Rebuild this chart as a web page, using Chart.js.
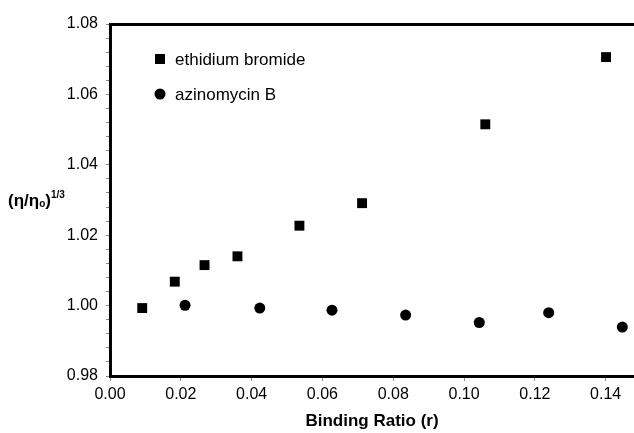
<!DOCTYPE html>
<html>
<head>
<meta charset="utf-8">
<script src="https://cdn.jsdelivr.net/npm/chart.js@4/dist/chart.umd.min.js"></script>
<style>
  html, body { margin: 0; padding: 0; background: #fff; }
  #wrap { width: 634px; height: 433px; position: relative; }
</style>
</head>
<body>
<div id="wrap"><canvas id="viscChart"></canvas></div>
<script>
// binding ratio (r) and (eta/eta0)^(1/3)
const ethidiumR = [0.0091, 0.0183, 0.0267, 0.0360, 0.0535, 0.0712, 0.1060, 0.1401];
const ethidiumV = [0.9993, 1.0068, 1.0115, 1.0140, 1.0227, 1.0291, 1.0515, 1.0706];
const azinoR = [0.0212, 0.0423, 0.0627, 0.0835, 0.1043, 0.1239, 0.1447];
const azinoV = [1.0001, 0.9993, 0.9987, 0.9973, 0.9952, 0.9980, 0.9939];
const seriesNames = ['ethidium bromide', 'azinomycin B'];
const xTickValues = [0.00, 0.02, 0.04, 0.06, 0.08, 0.10, 0.12, 0.14];

const FONT = '"Liberation Sans", Arial, sans-serif';
Chart.defaults.font.family = FONT;
Chart.defaults.color = '#000';

const toPoints = (xs, ys) => xs.map((x, i) => ({ x: x, y: ys[i] }));

// legend drawn inside the plot area, top left
const insideLegend = {
  id: 'insideLegend',
  afterDatasetsDraw(chart) {
    const ctx = chart.ctx;
    const x = chart.chartArea.left + 50;
    let y = chart.chartArea.top + 35;
    chart.data.datasets.forEach((ds) => {
      ctx.save();
      ctx.fillStyle = '#000';
      ctx.beginPath();
      if (ds.pointStyle === 'rect') {
        ctx.rect(x - 5, y - 5, 10, 10);
      } else {
        ctx.arc(x, y, 5.5, 0, Math.PI * 2);
      }
      ctx.fill();
      ctx.font = '17px ' + FONT;
      ctx.textBaseline = 'middle';
      ctx.fillText(ds.label, x + 15, y + 1);
      ctx.restore();
      y += 35;
    });
  }
};

// horizontal y-axis label with subscript and superscript
const yLabel = {
  id: 'yLabel',
  afterDraw(chart) {
    const ctx = chart.ctx;
    ctx.save();
    ctx.fillStyle = '#000';
    ctx.textBaseline = 'alphabetic';
    let x = 8;
    const base = 206;
    ctx.font = 'bold 17px ' + FONT;
    ctx.fillText('(η/η', x, base);
    x += ctx.measureText('(η/η').width;
    ctx.font = 'bold 10px ' + FONT;
    ctx.fillText('o', x, base + 1);
    x += ctx.measureText('o').width;
    ctx.font = 'bold 17px ' + FONT;
    ctx.fillText(')', x, base);
    x += ctx.measureText(')').width;
    ctx.font = 'bold 10px ' + FONT;
    ctx.fillText('1/3', x, base - 8);
    ctx.restore();
  }
};

const ctx = document.getElementById('viscChart').getContext('2d');
new Chart(ctx, {
  type: 'scatter',
  data: {
    datasets: [
      {
        label: seriesNames[0],
        data: toPoints(ethidiumR, ethidiumV),
        pointStyle: 'rect',
        pointRadius: 7,
        backgroundColor: '#000',
        borderWidth: 0,
      },
      {
        label: seriesNames[1],
        data: toPoints(azinoR, azinoV),
        pointStyle: 'circle',
        pointRadius: 5.5,
        backgroundColor: '#000',
        borderWidth: 0,
      },
    ],
  },
  options: {
    responsive: true,
    maintainAspectRatio: false,
    animation: false,
    layout: { padding: 0, autoPadding: false },
    plugins: {
      legend: { display: false },
      tooltip: { enabled: false },
    },
    scales: {
      x: {
        type: 'linear',
        position: 'bottom',
        min: 0,
        max: 0.148,
        afterBuildTicks: (s) => { s.ticks = xTickValues.map((v) => ({ value: v })); },
        afterFit: (s) => { s.height = 57; },
        ticks: {
          font: { size: 16 },
          color: '#000',
          padding: 4,
          maxRotation: 0,
          autoSkip: false,
          callback: (v) => Number(v).toFixed(2),
        },
        grid: { drawOnChartArea: false, drawTicks: true, tickLength: 5, color: '#888' },
        border: { display: true, width: 3, color: '#000' },
        title: {
          display: true,
          text: 'Binding Ratio (r)',
          font: { size: 17, weight: 'bold' },
          color: '#000',
          padding: { top: 0, bottom: 1 },
        },
      },
      xTop: {
        type: 'linear',
        axis: 'x',
        position: 'top',
        min: 0,
        max: 0.148,
        afterFit: (s) => { s.height = 24; },
        ticks: { display: false },
        grid: { drawOnChartArea: false, drawTicks: false },
        border: { display: true, width: 3, color: '#000' },
      },
      y: {
        type: 'linear',
        min: 0.98,
        max: 1.08,
        afterFit: (s) => { s.width = 110; },
        ticks: {
          stepSize: 0.004,
          autoSkip: false,
          font: { size: 16 },
          color: '#000',
          padding: 8,
          callback: (v) => {
            const k = v * 50;
            return Math.abs(k - Math.round(k)) < 1e-6 ? Number(v).toFixed(2) : '';
          },
        },
        grid: { drawOnChartArea: false, drawTicks: true, tickLength: 4, color: '#888' },
        border: { display: true, width: 3, color: '#000' },
      },
    },
  },
  plugins: [insideLegend, yLabel],
});
</script>
</body>
</html>
